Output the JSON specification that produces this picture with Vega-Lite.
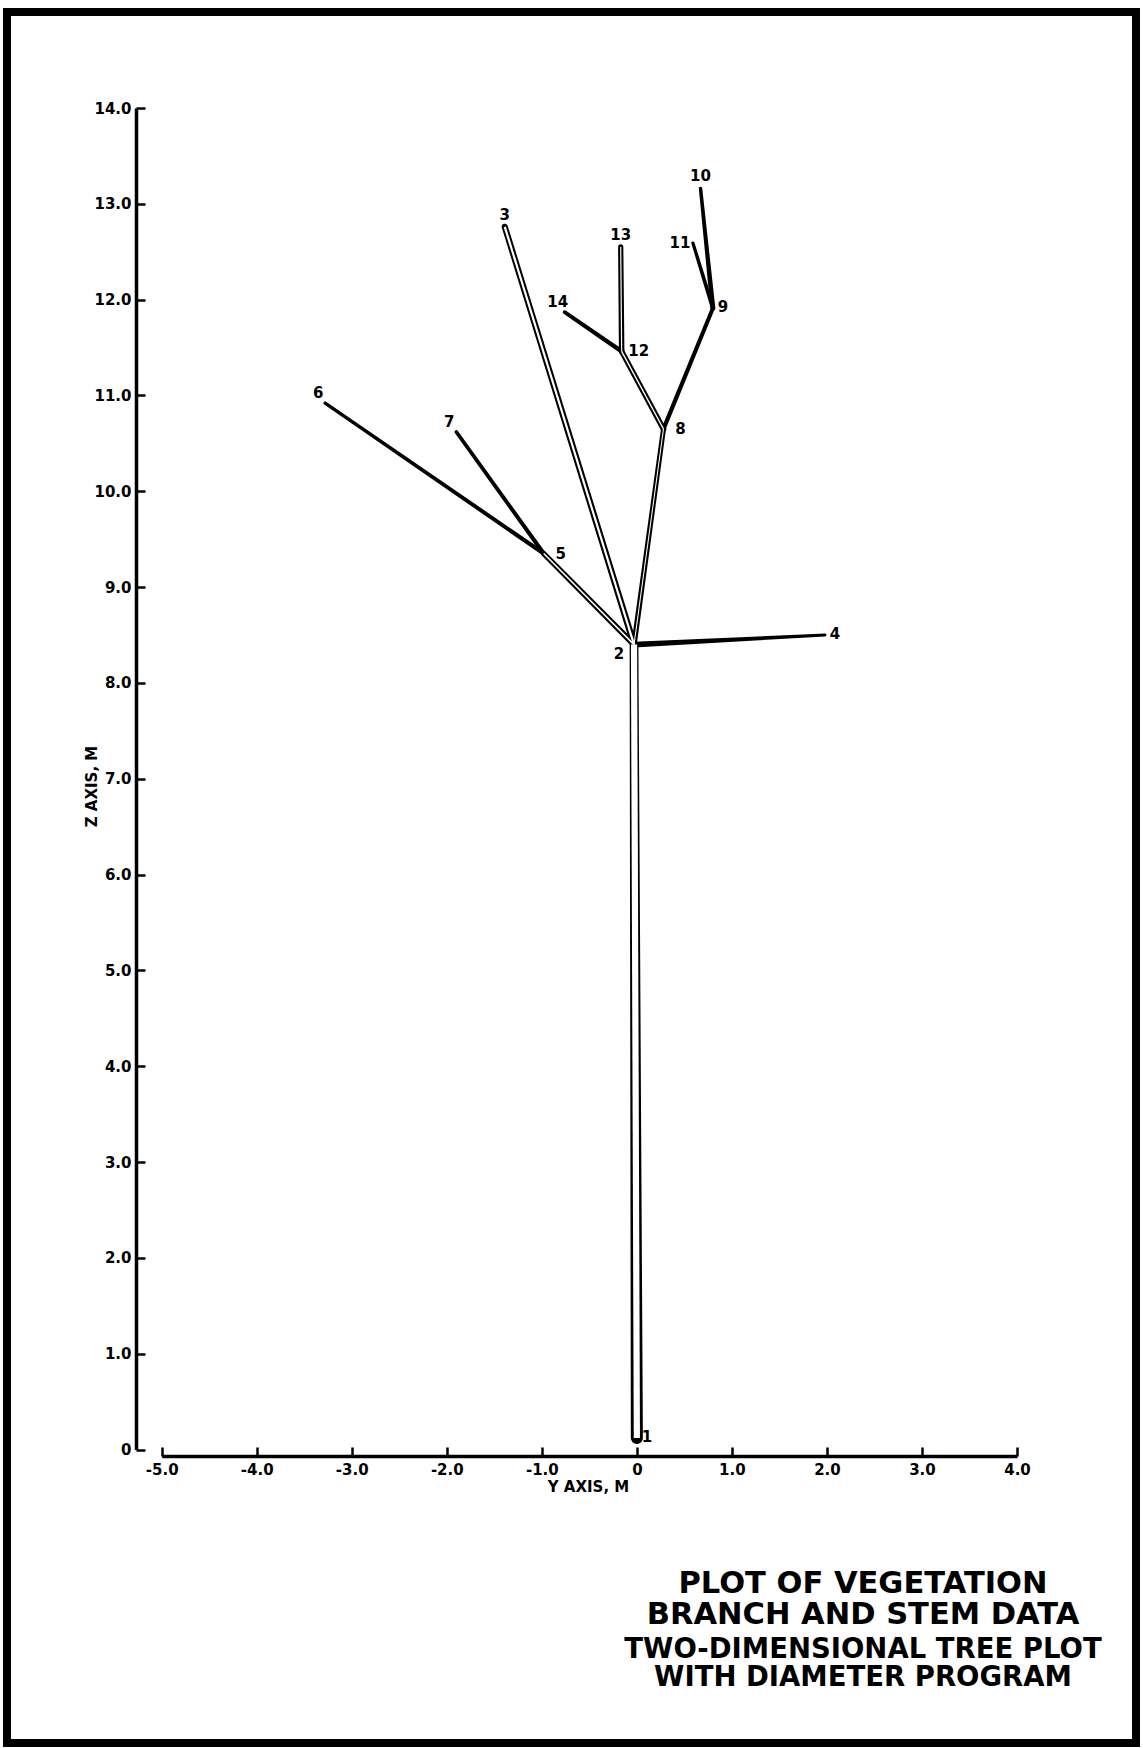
{
  "$schema": "https://vega.github.io/schema/vega-lite/v6.json",
  "width": 1129,
  "height": 1731,
  "autosize": {"type": "none"},
  "padding": {"left": 7, "top": 12, "right": 7, "bottom": 5},
  "background": "white",
  "config": {
    "view": {"stroke": "black", "strokeWidth": 8},
    "font": "DejaVu Sans"
  },
  "title": {
    "text": ["PLOT OF VEGETATION", "BRANCH AND STEM DATA"],
    "subtitle": ["TWO-DIMENSIONAL TREE PLOT", "WITH DIAMETER PROGRAM"],
    "orient": "bottom",
    "anchor": "start",
    "frame": "group",
    "align": "center",
    "baseline": "top",
    "dx": 856,
    "dy": -174,
    "offset": 0,
    "font": "DejaVu Sans",
    "fontSize": 30.5,
    "fontWeight": "bold",
    "color": "black",
    "lineHeight": 30.5,
    "subtitleFont": "DejaVu Sans",
    "subtitleFontSize": 27.5,
    "subtitleFontWeight": "bold",
    "subtitleColor": "black",
    "subtitleLineHeight": 28,
    "subtitlePadding": 6
  },
  "datasets": {
    "segments": [
      {"branch": "1-2", "node": 1, "Y": 0.00, "Z": 0.12, "diam_cm": 10.5},
      {"branch": "1-2", "node": 2, "Y": -0.03, "Z": 8.40, "diam_cm": 7.0},
      {"branch": "2-3", "node": 2, "Y": -0.03, "Z": 8.40, "diam_cm": 4.7},
      {"branch": "2-3", "node": 3, "Y": -1.39, "Z": 12.76, "diam_cm": 4.3},
      {"branch": "2-4", "node": 2, "Y": -0.03, "Z": 8.40, "diam_cm": 4.0},
      {"branch": "2-4", "node": 4, "Y": 1.98, "Z": 8.50, "diam_cm": 0.8},
      {"branch": "2-5", "node": 2, "Y": -0.03, "Z": 8.40, "diam_cm": 4.0},
      {"branch": "2-5", "node": 5, "Y": -0.98, "Z": 9.35, "diam_cm": 3.6},
      {"branch": "5-6", "node": 5, "Y": -0.98, "Z": 9.35, "diam_cm": 2.2},
      {"branch": "5-6", "node": 6, "Y": -3.28, "Z": 10.92, "diam_cm": 1.3},
      {"branch": "5-7", "node": 5, "Y": -0.98, "Z": 9.35, "diam_cm": 2.2},
      {"branch": "5-7", "node": 7, "Y": -1.90, "Z": 10.62, "diam_cm": 1.5},
      {"branch": "2-8", "node": 2, "Y": -0.03, "Z": 8.40, "diam_cm": 3.5},
      {"branch": "2-8", "node": 8, "Y": 0.28, "Z": 10.65, "diam_cm": 3.1},
      {"branch": "8-9", "node": 8, "Y": 0.28, "Z": 10.65, "diam_cm": 2.4},
      {"branch": "8-9", "node": 9, "Y": 0.80, "Z": 11.91, "diam_cm": 2.0},
      {"branch": "8-12", "node": 8, "Y": 0.28, "Z": 10.65, "diam_cm": 3.8},
      {"branch": "8-12", "node": 12, "Y": -0.16, "Z": 11.46, "diam_cm": 3.5},
      {"branch": "9-10", "node": 9, "Y": 0.80, "Z": 11.91, "diam_cm": 3.0},
      {"branch": "9-10", "node": 10, "Y": 0.67, "Z": 13.16, "diam_cm": 1.4},
      {"branch": "9-11", "node": 9, "Y": 0.80, "Z": 11.91, "diam_cm": 2.0},
      {"branch": "9-11", "node": 11, "Y": 0.59, "Z": 12.59, "diam_cm": 1.2},
      {"branch": "12-13", "node": 12, "Y": -0.16, "Z": 11.46, "diam_cm": 3.6},
      {"branch": "12-13", "node": 13, "Y": -0.17, "Z": 12.55, "diam_cm": 3.3},
      {"branch": "12-14", "node": 12, "Y": -0.16, "Z": 11.46, "diam_cm": 2.3},
      {"branch": "12-14", "node": 14, "Y": -0.76, "Z": 11.87, "diam_cm": 1.7}
    ],
    "nodes": [
      {"node": 1, "Y": 0.00, "Z": 0.12},
      {"node": 2, "Y": -0.03, "Z": 8.40},
      {"node": 3, "Y": -1.39, "Z": 12.76},
      {"node": 4, "Y": 1.98, "Z": 8.50},
      {"node": 5, "Y": -0.98, "Z": 9.35},
      {"node": 6, "Y": -3.28, "Z": 10.92},
      {"node": 7, "Y": -1.90, "Z": 10.62},
      {"node": 8, "Y": 0.28, "Z": 10.65},
      {"node": 9, "Y": 0.80, "Z": 11.91},
      {"node": 10, "Y": 0.67, "Z": 13.16},
      {"node": 11, "Y": 0.59, "Z": 12.59},
      {"node": 12, "Y": -0.16, "Z": 11.46},
      {"node": 13, "Y": -0.17, "Z": 12.55},
      {"node": 14, "Y": -0.76, "Z": 11.87}
    ]
  },
  "encoding": {
    "x": {
      "field": "Y",
      "type": "quantitative",
      "scale": {"domain": [-5, 4], "range": [154.7, 1010]},
      "axis": {
        "title": "Y AXIS, M",
        "orient": "bottom",
        "offset": -287,
        "values": [-5, -4, -3, -2, -1, 0, 1, 2, 3, 4],
        "labelExpr": "datum.value == 0 ? '0' : (datum.value < 0 ? '-' : '') + format(abs(datum.value), '.1f')",
        "grid": false,
        "domainColor": "black",
        "domainWidth": 3.5,
        "tickColor": "black",
        "tickWidth": 2.5,
        "tickSize": -9,
        "labelPadding": 15,
        "labelFont": "DejaVu Sans",
        "labelFontWeight": "bold",
        "labelFontSize": 15,
        "labelColor": "black",
        "labelFlush": false,
        "labelOverlap": false,
        "titleFont": "DejaVu Sans",
        "titleFontWeight": "bold",
        "titleFontSize": 15,
        "titleColor": "black",
        "titleX": 581,
        "titleY": 30,
        "titleAlign": "center",
        "titleBaseline": "middle"
      }
    },
    "y": {
      "field": "Z",
      "type": "quantitative",
      "scale": {"domain": [0, 14], "range": [1437.5, 96]},
      "axis": {
        "title": "Z AXIS, M",
        "orient": "left",
        "offset": -129,
        "values": [0, 1, 2, 3, 4, 5, 6, 7, 8, 9, 10, 11, 12, 13, 14],
        "labelExpr": "datum.value == 0 ? '0' : format(datum.value, '.1f')",
        "grid": false,
        "domainColor": "black",
        "domainWidth": 3.5,
        "tickColor": "black",
        "tickWidth": 2.5,
        "tickSize": -9,
        "labelPadding": 14,
        "labelFont": "DejaVu Sans",
        "labelFontWeight": "bold",
        "labelFontSize": 15,
        "labelColor": "black",
        "labelFlush": false,
        "labelOverlap": false,
        "titleFont": "DejaVu Sans",
        "titleFontWeight": "bold",
        "titleFontSize": 15,
        "titleColor": "black",
        "titleX": -45,
        "titleY": 774,
        "titleAngle": 270,
        "titleAlign": "center",
        "titleBaseline": "middle"
      }
    }
  },
  "layer": [
    {
      "data": {"name": "segments"},
      "mark": {"type": "trail", "color": "black"},
      "encoding": {
        "detail": {"field": "branch", "type": "nominal"},
        "order": {"field": "node", "type": "quantitative"},
        "size": {
          "field": "diam_cm",
          "type": "quantitative",
          "scale": {"domain": [0, 20], "range": [2.1, 21.1], "zero": false, "nice": false},
          "legend": null
        }
      }
    },
    {
      "data": {"name": "segments"},
      "transform": [
        {"filter": {"field": "branch", "oneOf": ["1-2", "2-3", "2-5", "2-8", "8-12", "12-13"]}},
        {"joinaggregate": [{"op": "mean", "field": "diam_cm", "as": "mean_diam_cm"}], "groupby": ["branch"]}
      ],
      "mark": {"type": "line", "color": "white", "strokeCap": "butt"},
      "encoding": {
        "detail": {"field": "branch", "type": "nominal"},
        "order": {"field": "node", "type": "quantitative"},
        "strokeWidth": {
          "field": "mean_diam_cm",
          "type": "quantitative",
          "scale": {"domain": [2.21, 20], "range": [0, 16.9], "zero": false, "nice": false},
          "legend": null
        }
      }
    },
    {
      "data": {"name": "nodes"},
      "transform": [{"filter": {"field": "node", "oneOf": [1, 4, 9]}}],
      "mark": {"type": "text", "dx": 10, "dy": -1, "font": "DejaVu Sans", "fontWeight": "bold", "fontSize": 15, "color": "black"},
      "encoding": {"text": {"field": "node", "type": "nominal"}}
    },
    {
      "data": {"name": "nodes"},
      "transform": [{"filter": {"field": "node", "oneOf": [5, 8, 12]}}],
      "mark": {"type": "text", "dx": 17, "dy": 0, "font": "DejaVu Sans", "fontWeight": "bold", "fontSize": 15, "color": "black"},
      "encoding": {"text": {"field": "node", "type": "nominal"}}
    },
    {
      "data": {"name": "nodes"},
      "transform": [{"filter": {"field": "node", "oneOf": [3, 10, 13]}}],
      "mark": {"type": "text", "dx": 0, "dy": -12, "font": "DejaVu Sans", "fontWeight": "bold", "fontSize": 15, "color": "black"},
      "encoding": {"text": {"field": "node", "type": "nominal"}}
    },
    {
      "data": {"name": "nodes"},
      "transform": [{"filter": {"field": "node", "oneOf": [6, 7, 14]}}],
      "mark": {"type": "text", "dx": -7, "dy": -10, "font": "DejaVu Sans", "fontWeight": "bold", "fontSize": 15, "color": "black"},
      "encoding": {"text": {"field": "node", "type": "nominal"}}
    },
    {
      "data": {"name": "nodes"},
      "transform": [{"filter": {"field": "node", "oneOf": [11]}}],
      "mark": {"type": "text", "dx": -13, "dy": 0, "font": "DejaVu Sans", "fontWeight": "bold", "fontSize": 15, "color": "black"},
      "encoding": {"text": {"field": "node", "type": "nominal"}}
    },
    {
      "data": {"name": "nodes"},
      "transform": [{"filter": {"field": "node", "oneOf": [2]}}],
      "mark": {"type": "text", "dx": -15, "dy": 9, "font": "DejaVu Sans", "fontWeight": "bold", "fontSize": 15, "color": "black"},
      "encoding": {"text": {"field": "node", "type": "nominal"}}
    }
  ]
}
